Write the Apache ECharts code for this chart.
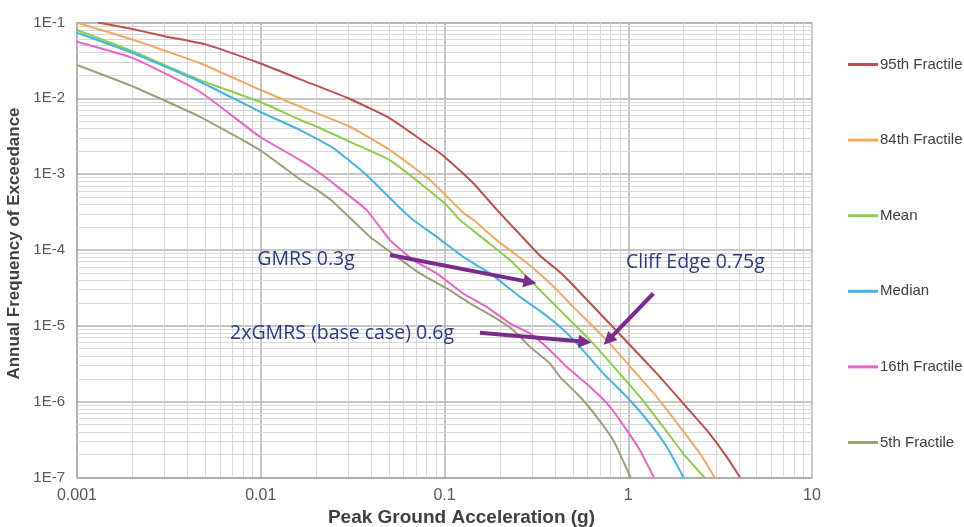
<!DOCTYPE html>
<html>
<head>
<meta charset="utf-8">
<script src="https://cdn.jsdelivr.net/npm/echarts@6/dist/echarts.min.js"></script>
<style>
html,body{margin:0;padding:0;background:#ffffff;}
#chart{width:964px;height:527px;}
</style>
</head>
<body>
<div id="chart"></div>
<script>
// ---------------- data ----------------
const seriesNames = ['95th Fractile', '84th Fractile', 'Mean', 'Median', '16th Fractile', '5th Fractile'];

const p95X = [0.0013, 0.002, 0.00308, 0.005, 0.0099, 0.0164, 0.0306, 0.0505, 0.0706, 0.0985, 0.1435, 0.1924, 0.2576, 0.331, 0.425, 0.482, 0.619, 0.94, 1.428, 1.993, 2.673, 3.435, 4.06];
const p95Y = [0.1, 0.082, 0.065, 0.0515, 0.029, 0.0178, 0.0098, 0.00545, 0.00311, 0.00175, 7.6e-4, 3.4e-4, 1.6e-4, 8.4e-5, 5.1e-5, 3.78e-5, 2.0e-5, 6.9e-6, 2.36e-6, 9.46e-7, 4.21e-7, 1.87e-7, 1e-7];

const p84X = [0.001, 0.00203, 0.00467, 0.0099, 0.0164, 0.0202, 0.0306, 0.0505, 0.0834, 0.1265, 0.1435, 0.1924, 0.275, 0.345, 0.425, 0.502, 0.763, 1.065, 1.428, 1.912, 2.457, 2.95];
const p84Y = [0.099, 0.0588, 0.029, 0.013, 0.00774, 0.00634, 0.00422, 0.00208, 8.36e-4, 3.1e-4, 2.5e-4, 1.35e-4, 7.0e-5, 4.4e-5, 2.7e-5, 1.78e-5, 6.47e-6, 2.61e-6, 1.16e-6, 4.65e-7, 2.07e-7, 1e-7];

const meanX = [0.001, 0.00203, 0.00467, 0.0099, 0.0164, 0.0202, 0.0306, 0.0505, 0.1, 0.1214, 0.1697, 0.227, 0.292, 0.36, 0.425, 0.619, 0.865, 1.158, 1.551, 1.993, 2.6];
const meanY = [0.0796, 0.0412, 0.0174, 0.00902, 0.00518, 0.00422, 0.00267, 0.00153, 4.16e-4, 2.48e-4, 1.3e-4, 7.36e-5, 4.01e-5, 2.41e-5, 1.61e-5, 6.47e-6, 2.61e-6, 1.16e-6, 4.65e-7, 2.07e-7, 1e-7];

const medianX = [0.001, 0.00203, 0.00467, 0.0099, 0.0164, 0.0248, 0.0377, 0.0573, 0.0676, 0.0907, 0.1265, 0.177, 0.2576, 0.345, 0.425, 0.524, 0.731, 0.981, 1.313, 1.62, 2.0];
const medianY = [0.0733, 0.0393, 0.01656, 0.00665, 0.00382, 0.00221, 9.7e-4, 3.57e-4, 2.48e-4, 1.49e-4, 8.13e-5, 4.91e-5, 2.41e-5, 1.46e-5, 9.7e-6, 5.9e-6, 2.36e-6, 1.16e-6, 5.15e-7, 2.54e-7, 1e-7];

const p16X = [0.001, 0.00203, 0.00467, 0.0099, 0.0164, 0.0202, 0.0248, 0.0377, 0.0505, 0.0676, 0.0907, 0.1265, 0.1697, 0.227, 0.292, 0.375, 0.462, 0.619, 0.796, 0.981, 1.158, 1.38];
const p16Y = [0.0558, 0.0337, 0.01222, 0.00311, 0.00153, 0.0011, 7.57e-4, 3.36e-4, 1.35e-4, 7.36e-5, 4.91e-5, 2.67e-5, 1.78e-5, 1.08e-5, 7.94e-6, 4.78e-6, 2.88e-6, 1.57e-6, 8.53e-7, 4.21e-7, 2.29e-7, 1e-7];

const p05X = [0.001, 0.00203, 0.00467, 0.0099, 0.0164, 0.0202, 0.0248, 0.0393, 0.055, 0.0735, 0.1028, 0.1377, 0.1843, 0.2368, 0.292, 0.375, 0.425, 0.546, 0.673, 0.829, 1.03];
const p05Y = [0.0275, 0.01422, 0.00571, 0.00208, 8.5e-4, 6.2e-4, 4.3e-4, 1.49e-4, 8.13e-5, 4.91e-5, 3.11e-5, 1.98e-5, 1.32e-5, 8.77e-6, 5.28e-6, 3.19e-6, 2.12e-6, 1.16e-6, 6.3e-7, 3.1e-7, 1e-7];

const xTickLabels = ['0.001', '0.01', '0.1', '1', '10'];
const yTickLabels = ['1E-7', '1E-6', '1E-5', '1E-4', '1E-3', '1E-2', '1E-1'];
const minorMultipliers = [2, 3, 4, 5, 6, 7, 8, 9];
const xDecades = [0.001, 0.01, 0.1, 1];
const yDecades = [1e-7, 1e-6, 1e-5, 1e-4, 1e-3, 1e-2];

// annotations (data coordinates)
const annoTexts = ['GMRS 0.3g', '2xGMRS (base case) 0.6g', 'Cliff Edge 0.75g'];
const annoX = [0.01763, 0.0277, 2.32];
const annoY = [7.58e-5, 8.0e-6, 6.9e-5];
const arrowFromX = [0.0505, 0.156, 1.369];
const arrowFromY = [8.57e-5, 8.1e-6, 2.67e-5];
const arrowToX = [0.292, 0.581, 0.779];
const arrowToY = [3.77e-5, 6.15e-6, 6.47e-6];

// ---------------- styles ----------------
const lineColors = ['#c0504d', '#f5a865', '#8ccf4d', '#45b5e5', '#ee62c9', '#a39e7a'];
const X_MIN = 0.001, X_MAX = 10, Y_MIN = 1e-7, Y_MAX = 0.1;

const xs = [p95X, p84X, meanX, medianX, p16X, p05X];
const ys = [p95Y, p84Y, meanY, medianY, p16Y, p05Y];

const zip = (a, b) => a.map((v, i) => [v, b[i]]);

const curveSeries = seriesNames.map((name, i) => ({
  name: name,
  type: 'line',
  data: zip(xs[i], ys[i]),
  showSymbol: false,
  symbol: 'none',
  smooth: 0.15,
  clip: true,
  z: 3,
  lineStyle: { color: lineColors[i], width: 2, join: 'round' },
  itemStyle: { color: lineColors[i] },
  emphasis: { disabled: true }
}));

// minor grid lines at 2..9 x 10^k
const minorLines = [];
xDecades.forEach(d => minorMultipliers.forEach(m => {
  minorLines.push([{ coord: [m * d, Y_MIN] }, { coord: [m * d, Y_MAX] }]);
}));
yDecades.forEach(d => minorMultipliers.forEach(m => {
  minorLines.push([{ coord: [X_MIN, m * d] }, { coord: [X_MAX, m * d] }]);
}));

const gridSeries = {
  name: '_grid',
  type: 'line',
  data: [],
  silent: true,
  z: 1,
  markLine: {
    silent: true,
    symbol: ['none', 'none'],
    z: 1,
    animation: false,
    label: { show: false },
    emphasis: { disabled: true },
    lineStyle: { color: '#d8d8d8', width: 1, type: 'solid' },
    data: minorLines
  }
};

const annoSeries = {
  name: '_anno',
  type: 'line',
  data: [],
  silent: true,
  z: 10,
  markLine: {
    silent: true,
    symbol: ['none', 'triangle'],
    symbolSize: [13, 13],
    z: 10,
    animation: false,
    label: { show: false },
    emphasis: { disabled: true },
    lineStyle: { color: '#7b2b8c', width: 4, type: 'solid', opacity: 1 },
    itemStyle: { color: '#7b2b8c' },
    data: arrowFromX.map((x, i) => [
      { coord: [x, arrowFromY[i]] },
      { coord: [arrowToX[i], arrowToY[i]] }
    ])
  },
  markPoint: {
    silent: true,
    animation: false,
    symbol: 'rect',
    symbolSize: 1,
    itemStyle: { color: 'rgba(0,0,0,0)' },
    label: {
      show: true,
      position: 'inside',
      color: '#2b3990',
      fontFamily: 'Open Sans',
      fontSize: 19.5
    },
    data: annoTexts.map((t, i) => ({
      coord: [annoX[i], annoY[i]],
      value: 0,
      label: { formatter: t }
    }))
  }
};

const chart = echarts.init(document.getElementById('chart'), null, { renderer: 'canvas' });

chart.setOption({
  animation: false,
  backgroundColor: '#ffffff',
  textStyle: { fontFamily: 'Liberation Sans' },
  grid: { left: 77, right: 152, top: 22.5, bottom: 49.5, containLabel: false, outerBoundsMode: 'none' },
  legend: {
    data: seriesNames,
    orient: 'vertical',
    left: 843,
    top: 51.5,
    icon: 'rect',
    itemWidth: 30,
    itemHeight: 3,
    itemGap: 59.6,
    selectedMode: false,
    textStyle: { color: '#404040', fontSize: 15, lineHeight: 16, fontFamily: 'Liberation Sans', padding: [0, 0, 0, -3] }
  },
  xAxis: {
    type: 'log',
    logBase: 10,
    min: X_MIN,
    max: X_MAX,
    interval: 1,
    splitNumber: 4,
    name: 'Peak Ground Acceleration (g)',
    nameLocation: 'middle',
    nameGap: 29,
    nameTextStyle: { color: '#404040', fontWeight: 'bold', fontSize: 19, fontFamily: 'Liberation Sans', padding: [0, 0, 0, 34] },
    axisLine: { show: true, lineStyle: { color: '#a8a8a8', width: 1.5 } },
    axisTick: { show: false },
    axisLabel: {
      color: '#595959', fontSize: 16, margin: 10, fontFamily: 'Liberation Sans',
      formatter: v => xTickLabels[Math.round(Math.log10(v)) + 3]
    },
    splitLine: { show: true, lineStyle: { color: '#b4b4b4', width: 1.5 } },
    minorTick: { show: false },
    minorSplitLine: { show: false }
  },
  yAxis: {
    type: 'log',
    logBase: 10,
    min: Y_MIN,
    max: Y_MAX,
    interval: 1,
    splitNumber: 6,
    name: 'Annual Frequency of Exceedance',
    nameLocation: 'middle',
    nameRotate: 90,
    nameGap: 46,
    nameTextStyle: { color: '#404040', fontWeight: 'bold', fontSize: 17, fontFamily: 'Liberation Sans', padding: [0, 0, 0, 13] },
    axisLine: { show: true, lineStyle: { color: '#a8a8a8', width: 1.5 } },
    axisTick: { show: false },
    axisLabel: {
      color: '#595959', fontSize: 15, margin: 12, fontFamily: 'Liberation Sans',
      formatter: v => yTickLabels[Math.round(Math.log10(v)) + 7]
    },
    splitLine: { show: true, lineStyle: { color: '#b4b4b4', width: 1.5 } },
    minorTick: { show: false },
    minorSplitLine: { show: false }
  },
  series: [gridSeries].concat(curveSeries).concat([annoSeries])
});
</script>
</body>
</html>
